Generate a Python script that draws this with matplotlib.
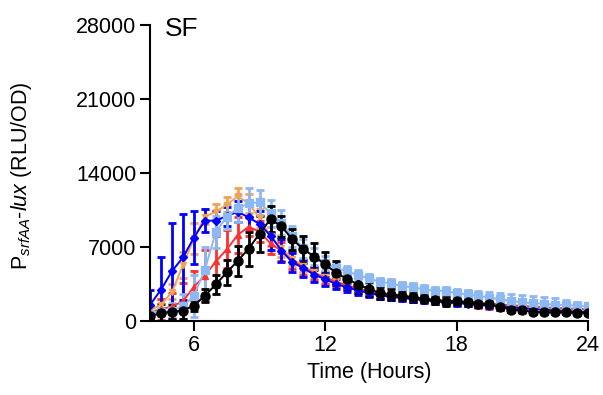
import matplotlib
matplotlib.use("Agg")
import matplotlib.pyplot as plt

# --- Data ---
time_h = [4, 4.5, 5, 5.5, 6, 6.5, 7, 7.5, 8, 8.5, 9, 9.5, 10, 10.5, 11, 11.5,
          12, 12.5, 13, 13.5, 14, 14.5, 15, 15.5, 16, 16.5, 17, 17.5, 18, 18.5,
          19, 19.5, 20, 20.5, 21, 21.5, 22, 22.5, 23, 23.5, 24]

blue = [1560, 2980, 4730, 6030, 7900, 9500, 9500, 9930, 10340, 9800, 9180, 8070,
        6670, 5550, 5010, 4380, 3960, 3500, 3190, 2900, 2650, 2440, 2300, 2180,
        2080, 1980, 1880, 1780, 1700, 1620, 1540, 1460, 1380, 1300, 1220, 1140,
        1080, 1020, 960, 900, 860]
blue_err = [1400, 3050, 4560, 4050, 2500, 1100, 900, 900, 1000, 1100, 1200, 1300,
            1100, 900, 800, 700, 600, 500, 450, 400, 380, 350, 330, 300, 300, 280,
            260, 250, 240, 230, 220, 210, 200, 200, 190, 180, 170, 160, 150, 150, 150]

orange = [1040, 1560, 2770, 5300, 7820, 9870, 10340, 11000, 11780, 11140, 9720,
          8000, 6900, 5900, 5200, 4600, 4150, 3750, 3400, 3100, 2850, 2650, 2480,
          2330, 2220, 2120, 2030, 1950, 1870, 1790, 1710, 1640, 1560, 1490, 1420,
          1350, 1290, 1230, 1180, 1130, 1080]
orange_err = [400, 500, 700, 1200, 1500, 700, 700, 700, 800, 900, 900, 900, 800,
              700, 600, 550, 500, 450, 400, 380, 350, 330, 300, 300, 280, 270, 260,
              250, 240, 230, 220, 210, 200, 200, 190, 180, 170, 160, 150, 150, 150]

red = [900, 1100, 1400, 1870, 3250, 4300, 5640, 6780, 8140, 8920, 8450, 7350, 6620,
       5700, 5100, 4500, 4100, 3700, 3350, 3050, 2800, 2600, 2450, 2300, 2200, 2100,
       2000, 1950, 1880, 1800, 1720, 1650, 1570, 1500, 1430, 1360, 1300, 1250, 1200,
       1150, 1100]
red_err = [500, 1000, 1300, 1700, 1500, 2400, 2400, 1800, 1700, 900, 1000, 1000,
           900, 800, 700, 600, 550, 500, 450, 400, 380, 350, 330, 300, 300, 300, 300,
           300, 350, 400, 450, 500, 550, 600, 650, 650, 600, 550, 500, 400, 300]

light_blue = [700, 850, 1000, 1400, 2400, 4850, 8420, 9870, 10650, 11140, 11230,
              10190, 9300, 8000, 6900, 6100, 5500, 5000, 4700, 4350, 4040, 3720,
              3560, 3310, 3200, 3000, 2870, 2870, 2620, 2530, 2370, 2220, 2060, 1900,
              1780, 1700, 1640, 1540, 1540, 1450, 1390]
light_blue_err = [300, 400, 700, 1200, 2000, 2200, 1500, 1200, 1300, 1400, 1200,
                  1300, 1200, 1000, 900, 800, 700, 600, 550, 500, 450, 400, 400, 400,
                  400, 400, 400, 400, 400, 450, 500, 550, 600, 650, 700, 700, 650, 600,
                  500, 400, 300]

black = [450, 780, 870, 1000, 1470, 2400, 3470, 4600, 5700, 6850, 8270, 9650, 8950,
         7730, 6790, 6090, 5360, 4560, 3990, 3450, 3040, 2670, 2510, 2410, 2250, 2130,
         1970, 1850, 1880, 1780, 1620, 1600, 1340, 1090, 1030, 870, 840, 830, 830,
         780, 780]
black_err = [300, 800, 700, 800, 500, 600, 900, 1200, 1400, 1600, 1700, 1200, 1000,
             1000, 1300, 1300, 1200, 1100, 1000, 800, 700, 600, 500, 450, 400, 350,
             350, 400, 400, 350, 300, 300, 250, 250, 200, 200, 200, 200, 200, 200, 200]

# --- Styling ---
plt.rcParams['font.family'] = ['Liberation Sans', 'DejaVu Sans']
plt.rcParams['mathtext.fontset'] = 'custom'
plt.rcParams['mathtext.rm'] = 'Liberation Sans'
plt.rcParams['mathtext.it'] = 'Liberation Sans:italic'

fig = plt.figure(figsize=(6.03, 3.95), dpi=100)
ax = fig.add_axes([0.249, 0.187, 0.726, 0.750])

series = [
    (orange, orange_err, '#F5A24E', 'v', 5),
    (red, red_err, '#FF3030', '^', 5),
    (blue, blue_err, '#0000FF', 'D', 4),
    (light_blue, light_blue_err, '#8DB8F2', 's', 5.5),
    (black, black_err, '#000000', 'o', 6.5),
]
for vals, errs, col, mk, ms in series:
    ax.errorbar(time_h, vals, yerr=errs, color=col, marker=mk, markersize=ms,
                linewidth=1.4, elinewidth=2, capsize=3, capthick=2)

ax.set_xlim(4, 24)
ax.set_ylim(0, 28000)
ax.set_xticks([6, 12, 18, 24])
ax.set_yticks([0, 7000, 14000, 21000, 28000])

for side in ['top', 'right']:
    ax.spines[side].set_visible(False)
for side in ['left', 'bottom']:
    ax.spines[side].set_linewidth(1.5)
ax.tick_params(axis='both', width=1.5, length=7, labelsize=15.5, pad=3)

ax.set_xlabel('Time (Hours)', fontsize=15.5, labelpad=4)
ax.set_ylabel(r'P$_{\it srfAA}$-$\it lux$ (RLU/OD)', fontsize=15.5)
ax.yaxis.set_label_coords(-0.265, 0.49)

ax.text(0.034, 1.025, 'SF', transform=ax.transAxes, fontsize=19, va='top', ha='left')

fig.savefig('out.png', dpi=100)
